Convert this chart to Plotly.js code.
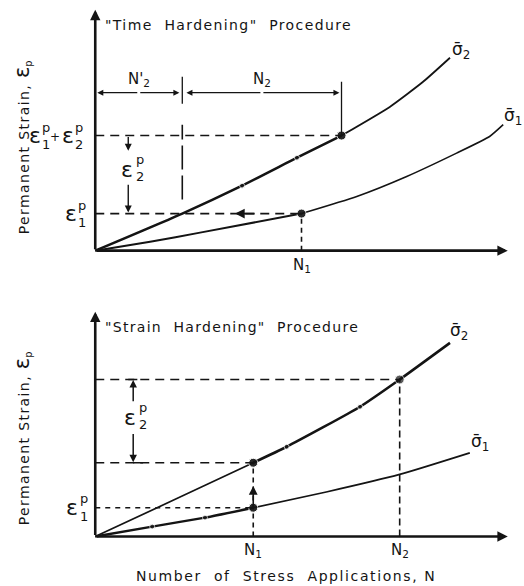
<!DOCTYPE html>
<html><head><meta charset="utf-8">
<script src="https://cdn.plot.ly/plotly-3.0.1.min.js"></script>
<style>html,body{margin:0;padding:0;background:#fff}#chart{width:524px;height:586px}</style>
</head><body><div id="chart"></div>
<script>
// ===== Top panel: "Time Hardening" procedure =====
const topSigma2X = [0, 2.11, 3.56, 4.89, 5.97, 7.14, 7.94, 8.60];
const topSigma2Y = [0, 1.54, 2.70, 3.86, 4.78, 5.97, 7.00, 8.01];
const topSigma2Dot = [0, 0, 5, 5, 9, 0, 0, 0];
const topSigma1X = [0, 1.33, 2.54, 5.00, 6.34, 7.55, 8.76, 9.56, 9.89];
const topSigma1Y = [0, 0.37, 0.75, 1.54, 2.25, 3.08, 4.05, 4.74, 5.23];
const topSigma1Dot = [0, 0, 0, 9, 0, 0, 0, 0, 0];
const topN1 = 5.00, topEps1 = 1.54;         // N1 and eps1 on sigma1
const topN2start = 2.11, topN2end = 5.97;   // N'2 / N2 on sigma2
const topEps12 = 4.78;                      // eps1 + eps2
const topDimY = 6.56;                       // level of N'2 / N2 dimension line

// ===== Bottom panel: "Strain Hardening" procedure =====
const botSigma2X = [0, 1.9, 3.83, 4.64, 6.42, 7.38, 8.60];
const botSigma2Y = [0, 1.62, 3.28, 3.99, 5.77, 6.98, 8.61];
const botSigma2Dot = [0, 0, 9, 5, 5, 9, 0];
const botSigma1X = [0, 1.38, 2.66, 3.83, 5.60, 7.38, 9.08];
const botSigma1Y = [0, 0.44, 0.84, 1.28, 1.98, 2.76, 3.72];
const botSigma1Dot = [0, 5, 5, 9, 0, 0, 0];
const botN1 = 3.83, botN2 = 7.38;
const botEps1 = 1.28, botEpsAtN1 = 3.28, botEpsAtN2 = 6.98;

const INK = '#141414';
const FONT = 'DejaVu Sans, Liberation Sans, sans-serif';
const DASH = '9px,6px';

function curve(xa, ya, X, Y, dots, width, i0, i1) {
  return {
    type: 'scatter', mode: 'lines+markers', xaxis: xa, yaxis: ya,
    x: X.slice(i0, i1), y: Y.slice(i0, i1),
    line: {color: INK, width: width, shape: 'spline', smoothing: 0.5},
    marker: {color: INK, size: dots.slice(i0, i1)},
    hoverinfo: 'skip', cliponaxis: false
  };
}

const traces = [
  curve('x', 'y', topSigma2X, topSigma2Y, topSigma2Dot, 2.6, 0, 5),
  curve('x', 'y', topSigma2X, topSigma2Y, topSigma2Dot, 1.8, 4, topSigma2X.length),
  curve('x', 'y', topSigma1X, topSigma1Y, topSigma1Dot, 2.0, 0, 4),
  curve('x', 'y', topSigma1X, topSigma1Y, topSigma1Dot, 1.6, 3, topSigma1X.length),
  curve('x2', 'y2', botSigma2X, botSigma2Y, botSigma2Dot, 1.7, 0, 3),
  curve('x2', 'y2', botSigma2X, botSigma2Y, botSigma2Dot, 2.6, 2, botSigma2X.length),
  curve('x2', 'y2', botSigma1X, botSigma1Y, botSigma1Dot, 2.4, 0, 4),
  curve('x2', 'y2', botSigma1X, botSigma1Y, botSigma1Dot, 1.7, 3, botSigma1X.length)
];

function seg(xr, yr, x0, y0, x1, y1, dash, w) {
  return {type: 'line', xref: xr, yref: yr, x0, y0, x1, y1,
          line: {color: INK, width: w || 1.6, dash: dash || 'solid'}};
}

const shapes = [
  // top
  seg('x', 'y', 0, topEps12, topN2end, topEps12, DASH),
  seg('x', 'y', 0, topEps1, topN1, topEps1, DASH),
  seg('x', 'y', topN1, 0, topN1, topEps1, '5px,4px'),
  seg('x', 'y', topN2start, 2.12, topN2start, 5.23, '24px,6px'),
  seg('x', 'y', topN2start, 6.10, topN2start, 7.22, 'solid', 1.3),
  seg('x', 'y', topN2end, topEps12, topN2end, 7.01, 'solid', 1.3),
  // bottom
  seg('x2', 'y2', 0, botEpsAtN2, botN2, botEpsAtN2, DASH),
  seg('x2', 'y2', 0, botEpsAtN1, botN1, botEpsAtN1, DASH),
  seg('x2', 'y2', 0, botEps1, botN1, botEps1, '5px,5px'),
  seg('x2', 'y2', botN2, 0, botN2, botEpsAtN2, '7px,4px'),
  seg('x2', 'y2', botN1, 0, botN1, botEpsAtN1, '5px,4px'),
  seg('x2', 'y2', 0.80, botEpsAtN2, 1.02, botEpsAtN2, 'solid', 1.6),
  seg('x2', 'y2', 0.92, botEpsAtN1, 1.16, botEpsAtN1, 'solid', 1.6)
];

function arrow(xa, ya, x, y, ax, ay, o) {
  return Object.assign({xref: xa, yref: ya, axref: xa, ayref: ya, x, y, ax, ay,
    text: '', showarrow: true, arrowhead: 2, arrowsize: 1, arrowwidth: 1.4,
    arrowcolor: INK, standoff: 0, startstandoff: 0}, o || {});
}
function txt(xa, ya, x, y, t, size, o) {
  return Object.assign({xref: xa, yref: ya, x, y, text: t, showarrow: false,
    xanchor: 'center', yanchor: 'middle', borderpad: 0,
    font: {family: FONT, size: size, color: INK}}, o || {});
}
function spaced(t, ls) {
  return '<span style="letter-spacing:' + ls + 'px">' + t + '</span>';
}
function eps(xa, ya, x, y, sub, xs, xsSup, dyUp, dyDn) {
  return [
    txt(xa, ya, x, y, '\u03B5', 22, {xanchor: 'left', xshift: xs}),
    txt(xa, ya, x, y, 'p', 13, {xanchor: 'left', xshift: xsSup, yshift: dyUp}),
    txt(xa, ya, x, y, sub, 13, {xanchor: 'left', xshift: xsSup, yshift: dyDn})
  ];
}
function sigma(xa, ya, X, Y, sub, xs, ys) {
  const n = X.length - 1;
  return txt(xa, ya, X[n], Y[n], '\u03C3\u0304<sub>' + sub + '</sub>', 17,
             {xanchor: 'left', xshift: xs, yshift: ys});
}

const yTitle = spaced('Permanent Strain, ', 1.4) +
  '<span style="font-size:21px">\u03B5</span><sub>p</sub>';

const annotations = [
  // axes with arrowheads
  arrow('x', 'y', 0, 10, 0, 0, {arrowwidth: 2.6, arrowsize: 0.8}),
  arrow('x', 'y', 10, 0, 0, 0, {arrowwidth: 2.6, arrowsize: 0.8}),
  arrow('x2', 'y2', 0, 10, 0, 0, {arrowwidth: 2.6, arrowsize: 0.8}),
  arrow('x2', 'y2', 10, 0, 0, 0, {arrowwidth: 2.6, arrowsize: 0.8}),
  // titles
  txt('x', 'y', 0.22, 9.38, spaced('"Time  Hardening"  Procedure', 1.4), 14, {xanchor: 'left'}),
  txt('x2', 'y2', 0.22, 9.33, spaced('"Strain  Hardening"  Procedure', 1.3), 14, {xanchor: 'left'}),
  // top dimension arrows N'2 and N2
  arrow('x', 'y', 0.05, topDimY, topN2start / 2, topDimY, {arrowwidth: 1.2}),
  arrow('x', 'y', topN2start - 0.07, topDimY, topN2start / 2, topDimY, {arrowwidth: 1.2}),
  arrow('x', 'y', topN2start + 0.1, topDimY, (topN2start + topN2end) / 2, topDimY, {arrowwidth: 1.2}),
  arrow('x', 'y', topN2end - 0.05, topDimY, (topN2start + topN2end) / 2, topDimY, {arrowwidth: 1.2}),
  txt('x', 'y', topN2start / 2, topDimY, "N'<sub>2</sub>", 15, {yshift: 13}),
  txt('x', 'y', (topN2start + topN2end) / 2, topDimY, 'N<sub>2</sub>', 15, {yshift: 13}),
  // top eps2 arrows (pointing down)
  arrow('x', 'y', 0.80, 4.15, 0.80, topEps12, {arrowwidth: 1.4}),
  arrow('x', 'y', 0.80, topEps1 + 0.04, 0.80, 2.80, {arrowwidth: 1.4}),
  // top left-pointing arrow on eps1 line
  arrow('x', 'y', 3.39, topEps1, 3.9, topEps1, {arrowwidth: 1.6, arrowsize: 1.2}),
  // bottom eps2 arrows (pointing outward)
  arrow('x2', 'y2', 0.92, botEpsAtN2 - 0.02, 0.92, 5.95, {arrowwidth: 1.5}),
  arrow('x2', 'y2', 0.92, botEpsAtN1 + 0.02, 0.92, 4.62, {arrowwidth: 1.5}),
  // bottom upward arrow at N1
  arrow('x2', 'y2', botN1, 2.25, botN1, botEps1, {arrowwidth: 1.6, arrowsize: 1.1}),
  // N labels
  txt('x', 'y', topN1, 0, 'N<sub>1</sub>', 15, {yanchor: 'top', yshift: -4}),
  txt('x2', 'y2', botN1, 0, 'N<sub>1</sub>', 15, {yanchor: 'top', yshift: -4}),
  txt('x2', 'y2', botN2, 0, 'N<sub>2</sub>', 15, {yanchor: 'top', yshift: -4}),
  // sigma labels
  sigma('x', 'y', topSigma2X, topSigma2Y, '2', 1, 7),
  sigma('x', 'y', topSigma1X, topSigma1Y, '1', 0, 8),
  sigma('x2', 'y2', botSigma2X, botSigma2Y, '2', -1, 11),
  sigma('x2', 'y2', botSigma1X, botSigma1Y, '1', 0, 10),
  // axis titles
  txt('paper', 'paper', -0.151, 0.735, yTitle, 14, {textangle: -90}),
  txt('paper', 'paper', -0.151, 0.192, yTitle, 14, {textangle: -90}),
  txt('paper', 'paper', 0.464, -0.066, spaced('Number  of  Stress  Applications, N', 1.6), 14, {}),
  // "+" between eps terms
  txt('x', 'y', 0, topEps12, '+', 12, {xanchor: 'left', xshift: -46, yshift: -1})
].concat(
  eps('x', 'y', 0, topEps12, '1', -67, -54, 8, -9),
  eps('x', 'y', 0, topEps12, '2', -34, -21, 8, -9),
  eps('x', 'y', 0, topEps1, '1', -31, -18, 8, -9),
  eps('x', 'y', 0.80, 3.36, '2', -8, 7, 10, -7),
  eps('x2', 'y2', 0.92, 5.29, '2', -10, 5, 10, -7),
  eps('x2', 'y2', 0, botEps1, '1', -30, -16, 9, -9)
);

const axX = {range: [-0.2, 10.2], showgrid: false, zeroline: false, showticklabels: false,
             showline: false, ticks: '', fixedrange: true};
const layout = {
  width: 524, height: 586,
  margin: {l: 86.74, r: 7.74, t: 5.18, b: 44.5, pad: 0},
  paper_bgcolor: '#fff', plot_bgcolor: '#fff', showlegend: false,
  font: {family: FONT, color: INK},
  xaxis: Object.assign({anchor: 'y', domain: [0, 1]}, axX),
  yaxis: Object.assign({}, axX, {anchor: 'x', domain: [0.53267, 1]}),
  xaxis2: Object.assign({anchor: 'y2', domain: [0, 1]}, axX),
  yaxis2: Object.assign({}, axX, {anchor: 'x2', domain: [0, 0.43631]}),
  shapes: shapes, annotations: annotations
};
Plotly.newPlot('chart', traces, layout, {staticPlot: true, displayModeBar: false});
</script></body></html>
